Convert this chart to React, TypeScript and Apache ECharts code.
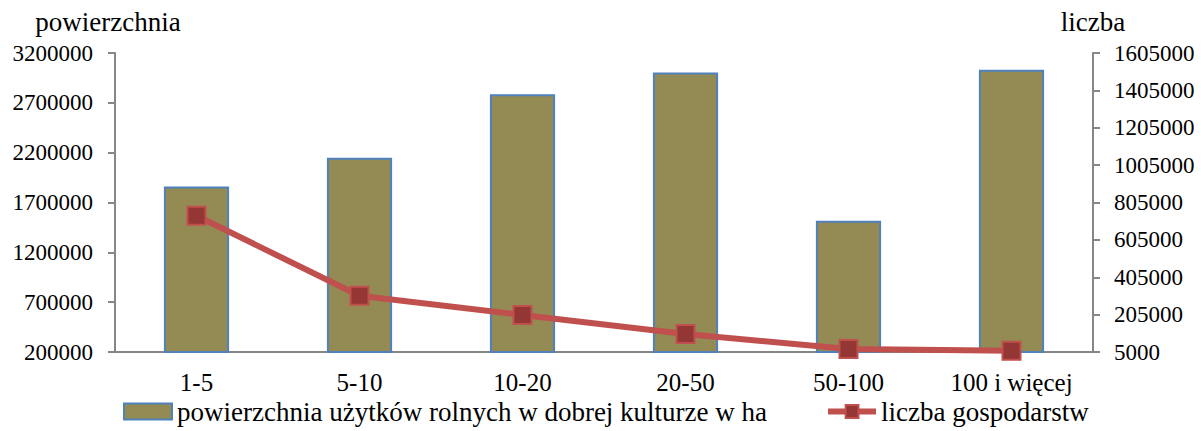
import React, { useEffect, useRef } from "react";
import * as echarts from "echarts";

const categories = ["1-5", "5-10", "10-20", "20-50", "50-100", "100 i więcej"];
const areaValues = [1860000, 2148000, 2787000, 3004000, 1518000, 3031000];
const farmCounts = [734000, 306000, 203000, 101000, 21000, 12000];
const leftTicks = [200000, 700000, 1200000, 1700000, 2200000, 2700000, 3200000];
const rightTicks = [5000, 205000, 405000, 605000, 805000, 1005000, 1205000, 1405000, 1605000];
const areaName = "powierzchnia użytków rolnych w dobrej kulturze w ha";
const countName = "liczba gospodarstw";

const FONT = '"Liberation Serif"';
const AXIS_COLOR = "#868686";

export default function App() {
  const ref = useRef<HTMLDivElement>(null);
  useEffect(() => {
    if (!ref.current) return;
    const chart = echarts.init(ref.current, null, { renderer: "svg" });
    const numStyle = { fontFamily: FONT, fontSize: 23, color: "#000" };
    const wordStyle = { fontFamily: FONT, fontSize: 27, color: "#000" };
    const fmt = (v: number) => String(v);
    chart.setOption({
      animation: false,
      textStyle: wordStyle,
      grid: { left: 115, right: 108, top: 53, bottom: 79, containLabel: false },
      legend: {
        left: 118,
        bottom: 1,
        itemWidth: 48,
        itemHeight: 16,
        itemGap: 58,
        textStyle: { ...wordStyle },
        data: [
          { name: areaName, icon: "rect" },
          { name: countName, lineStyle: { width: 6, color: "#C0504D" } },
        ],
      },
      xAxis: {
        type: "category",
        data: categories,
        axisLine: { lineStyle: { color: AXIS_COLOR, width: 2 } },
        axisTick: { length: 7, lineStyle: { color: AXIS_COLOR, width: 2 } },
        axisLabel: { ...wordStyle, fontSize: 25, margin: 18 },
      },
      yAxis: [
        {
          type: "value",
          min: leftTicks[0],
          max: leftTicks[leftTicks.length - 1],
          name: "powierzchnia",
          nameLocation: "end",
          nameGap: 18,
          nameTextStyle: { ...wordStyle, padding: [0, 14, 0, 0] },
          axisLine: { show: true, lineStyle: { color: AXIS_COLOR, width: 2 } },
          axisTick: { show: true, length: 7, customValues: leftTicks, lineStyle: { color: AXIS_COLOR, width: 2 } },
          axisLabel: { ...numStyle, margin: 22, customValues: leftTicks, formatter: fmt },
          splitLine: { show: false },
        },
        {
          type: "value",
          min: rightTicks[0],
          max: rightTicks[rightTicks.length - 1],
          name: "liczba",
          nameLocation: "end",
          nameGap: 18,
          nameTextStyle: { ...wordStyle },
          position: "right",
          axisLine: { show: true, lineStyle: { color: AXIS_COLOR, width: 2 } },
          axisTick: { show: true, length: 7, customValues: rightTicks, lineStyle: { color: AXIS_COLOR, width: 2 } },
          axisLabel: { ...numStyle, margin: 21, customValues: rightTicks, formatter: fmt },
          splitLine: { show: false },
        },
      ],
      series: [
        {
          name: areaName,
          type: "bar",
          yAxisIndex: 0,
          data: areaValues,
          barWidth: "40%",
          itemStyle: { color: "#948A54", borderColor: "#4F81BD", borderWidth: 2 },
        },
        {
          name: countName,
          type: "line",
          yAxisIndex: 1,
          data: farmCounts,
          symbol: "rect",
          symbolSize: 18,
          lineStyle: { color: "#C0504D", width: 6 },
          itemStyle: { color: "#943634", borderColor: "#C0504D", borderWidth: 2 },
        },
      ],
    });
    return () => chart.dispose();
  }, []);
  return <div ref={ref} style={{ width: 1201, height: 431, position: "absolute", left: 0, top: 0 }} />;
}
